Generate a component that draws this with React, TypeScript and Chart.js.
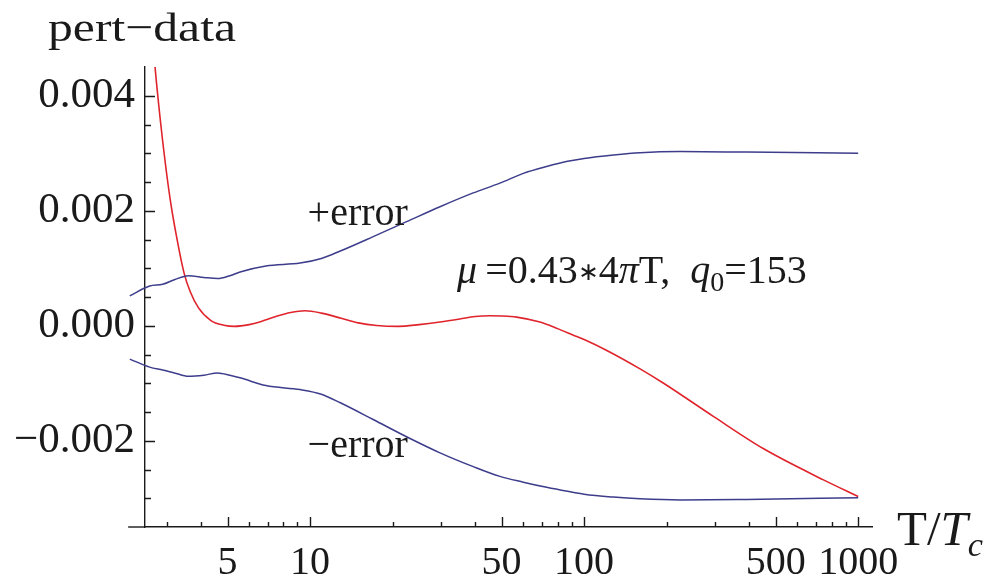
import React, { useEffect, useRef } from "react";
import { Chart, registerables } from "chart.js";

Chart.register(...registerables);

// ---- data (T/Tc , value) ----
const RED_X = [2.55, 2.72, 2.84, 2.97, 3.1, 3.25, 3.47, 3.65, 3.92, 4.35, 4.85, 5.3, 6.0, 6.6, 7.5, 8.5, 9.6, 11, 13, 15, 17.5, 21, 25, 29.8, 35.2, 40, 45.4, 50, 56.7, 69, 80, 91, 100, 121, 160, 195, 297, 452, 747, 1000];
const RED_Y = [0.0062, 0.0045, 0.0036, 0.0028, 0.00215, 0.00158, 0.00092, 0.0006, 0.00031, 0.00009, 0.00001, -0.00001, 0.00002, 0.00007, 0.00016, 0.00023, 0.00026, 0.00022, 0.00013, 0.00005, 0.000005, -0.00001, 0.00002, 0.000064, 0.000116, 0.00016, 0.000174, 0.00017, 0.00015, 0.000064, -0.00005, -0.00016, -0.00024, -0.00043, -0.00075, -0.001, -0.00158, -0.00214, -0.00268, -0.00297];

const ERR_X = [2.2, 2.6, 2.9, 3.2, 3.6, 4.1, 4.6, 5.1, 5.6, 6.9, 9.2, 11, 12.9, 17, 22.5, 29.8, 39.4, 49.3, 60, 73, 87, 100, 128, 160, 224, 392, 1000];
const PLUS_Y = [0.00052, 0.00069, 0.00072, 0.0008, 0.00087, 0.00084, 0.00082, 0.00087, 0.00094, 0.00104, 0.00109, 0.00117, 0.0013, 0.00155, 0.00181, 0.00207, 0.00231, 0.00248, 0.00265, 0.00277, 0.00286, 0.00291, 0.00297, 0.00301, 0.00303, 0.00302, 0.003];
const MINUS_Y = [-0.00058, -0.00072, -0.00077, -0.00082, -0.00088, -0.00086, -0.00082, -0.00086, -0.00091, -0.00104, -0.00111, -0.00119, -0.00134, -0.00163, -0.00193, -0.00221, -0.00245, -0.00262, -0.00272, -0.00281, -0.00288, -0.00293, -0.00298, -0.00301, -0.00303, -0.00302, -0.00299];

// ---- axes ----
const X_MIN = 2.5;
const X_MAX = 1123;
const X_AXIS_START = 2.17;
const Y_MIN = -0.0035;
const Y_MAX = 0.0045;
const X_MAJOR = [5, 10, 50, 100, 500, 1000];
const X_MINOR = [3, 4, 6, 7, 8, 9, 20, 30, 40, 60, 70, 80, 90, 200, 300, 400, 600, 700, 800, 900];
const Y_MAJOR = [-0.002, 0, 0.002, 0.004];
const Y_MINOR = [-0.003, -0.0025, -0.0015, -0.001, -0.0005, 0.0005, 0.001, 0.0015, 0.0025, 0.003, 0.0035];

const RED = "#e0242c";
const BLUE = "#3d3d8c";
const INK = "#1a1a1a";
const SERIF = "'Liberation Serif', 'Times New Roman', serif";

const zip = (xs: number[], ys: number[]) => xs.map((x, i) => ({ x, y: ys[i] }));

type Seg = { t: string; italic?: boolean; sub?: boolean; scale?: number; dy?: number };

function drawRich(ctx: CanvasRenderingContext2D, segs: Seg[], x: number, y: number, size: number) {
  let cx = x;
  for (const s of segs) {
    const fs = s.sub ? size * 0.7 : size * (s.scale || 1);
    ctx.font = `${s.italic ? "italic " : ""}${fs}px ${SERIF}`;
    const yy = s.sub ? y + size * 0.22 : y + (s.dy || 0) * size;
    ctx.fillText(s.t, cx, yy);
    cx += ctx.measureText(s.t).width;
  }
}

const decor = {
  id: "decor",
  afterDraw(chart: any) {
    const { ctx, chartArea, scales } = chart;
    const xs = scales.x;
    const ys = scales.y;
    ctx.save();
    ctx.strokeStyle = INK;
    ctx.lineWidth = 1.4;
    const left = chartArea.left;
    const bottom = chartArea.bottom;
    // x-axis extension to the left of y axis
    ctx.beginPath();
    ctx.moveTo(xs.getPixelForValue(X_AXIS_START), bottom);
    ctx.lineTo(left, bottom);
    ctx.stroke();
    // y ticks (inward)
    ctx.beginPath();
    for (const v of Y_MAJOR) {
      const p = Math.round(ys.getPixelForValue(v)) + 0.5;
      ctx.moveTo(left, p);
      ctx.lineTo(left + 10, p);
    }
    for (const v of Y_MINOR) {
      const p = Math.round(ys.getPixelForValue(v)) + 0.5;
      ctx.moveTo(left, p);
      ctx.lineTo(left + 6, p);
    }
    // x ticks (upward)
    for (const v of X_MAJOR) {
      const p = Math.round(xs.getPixelForValue(v)) + 0.5;
      ctx.moveTo(p, bottom);
      ctx.lineTo(p, bottom - 10);
    }
    for (const v of X_MINOR) {
      const p = Math.round(xs.getPixelForValue(v)) + 0.5;
      ctx.moveTo(p, bottom);
      ctx.lineTo(p, bottom - 5);
    }
    ctx.stroke();

    // texts
    ctx.fillStyle = INK;
    ctx.textBaseline = "alphabetic";
    ctx.textAlign = "left";

    // y-axis caption, slightly widened like the original
    ctx.font = `41px ${SERIF}`;
    const cap = "pert\u2212data";
    const w = ctx.measureText(cap).width;
    ctx.save();
    ctx.translate(48, 41);
    ctx.scale(188 / w, 1);
    ctx.fillText(cap, 0, 0);
    ctx.restore();

    ctx.font = `40px ${SERIF}`;
    ctx.fillText("+error", xs.getPixelForValue(9.8), ys.getPixelForValue(0.00176));
    ctx.fillText("\u2212error", xs.getPixelForValue(9.8), ys.getPixelForValue(-0.00228));

    drawRich(
      ctx,
      [
        { t: "\u03bc", italic: true },
        { t: "\u2009=0.43" },
        { t: "\u2217", scale: 0.62, dy: -0.06 },
        { t: "4" },
        { t: "\u03c0", italic: true },
        { t: "T,  " },
        { t: "q", italic: true },
        { t: "0", sub: true },
        { t: "=153" },
      ],
      xs.getPixelForValue(34.4),
      ys.getPixelForValue(0.00075),
      40
    );

    drawRich(
      ctx,
      [{ t: "T/" }, { t: "T", italic: true }, { t: "c", italic: true, sub: true }],
      chartArea.right + 25,
      545,
      49
    );
    ctx.restore();
  },
};

const lineStyle = (color: string, width: number) => ({
  borderColor: color,
  borderWidth: width,
  pointRadius: 0,
  cubicInterpolationMode: "monotone" as const,
  clip: { left: false, top: 0, right: 0, bottom: 0 } as any,
});

export default function App() {
  const ref = useRef<HTMLCanvasElement | null>(null);
  useEffect(() => {
    if (!ref.current) return;
    const chart = new Chart(ref.current, {
      type: "line",
      data: {
        datasets: [
          { label: "+error", data: zip(ERR_X, PLUS_Y), ...lineStyle(BLUE, 1.5) },
          { label: "-error", data: zip(ERR_X, MINUS_Y), ...lineStyle(BLUE, 1.5) },
          { label: "pert-data", data: zip(RED_X, RED_Y), ...lineStyle(RED, 1.6) },
        ],
      },
      options: {
        animation: false,
        responsive: true,
        maintainAspectRatio: false,
        layout: { padding: { left: 0, top: 67, right: 118, bottom: 0 } },
        plugins: { legend: { display: false }, tooltip: { enabled: false }, title: { display: false } },
        scales: {
          x: {
            type: "logarithmic",
            min: X_MIN,
            max: X_MAX,
            afterBuildTicks: (s: any) => {
              s.ticks = X_MAJOR.map((v) => ({ value: v }));
            },
            afterFit: (s: any) => {
              s.height = 56;
            },
            ticks: {
              autoSkip: false,
              maxRotation: 0,
              padding: 12,
              color: INK,
              font: { family: SERIF, size: 40 },
              callback: (v: any) => String(v),
            },
            grid: { display: true, drawOnChartArea: false, drawTicks: false },
            border: { display: true, color: INK, width: 1.4 },
          },
          y: {
            type: "linear",
            min: Y_MIN,
            max: Y_MAX,
            afterBuildTicks: (s: any) => {
              s.ticks = Y_MAJOR.map((v) => ({ value: v }));
            },
            afterFit: (s: any) => {
              s.width = 145;
            },
            ticks: {
              padding: 10,
              color: INK,
              font: { family: SERIF, size: 43 },
              callback: (v: any) => Number(v).toFixed(3).replace("-", "\u2212"),
            },
            grid: { display: true, drawOnChartArea: false, drawTicks: false },
            border: { display: true, color: INK, width: 1.4 },
          },
        },
      },
      plugins: [decor],
    });
    return () => chart.destroy();
  }, []);
  return (
    <div style={{ position: "absolute", left: 0, top: 0, width: 990, height: 583, background: "#fff" }}>
      <canvas ref={ref} />
    </div>
  );
}
